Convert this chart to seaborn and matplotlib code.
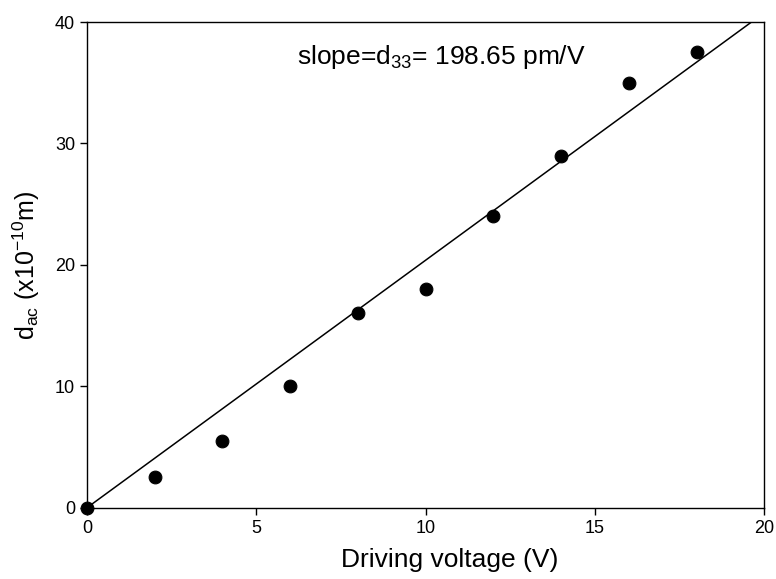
import matplotlib
matplotlib.use("Agg")
import matplotlib.pyplot as plt
import numpy as np
import seaborn as sns
import pandas as pd

voltage = [0, 2, 4, 6, 8, 10, 12, 14, 16, 18]
d_ac = [0, 2.5, 5.5, 10, 16, 18, 24, 29, 35, 37.5]

sns.set_style("ticks")
plt.rcParams['font.family'] = ['Liberation Sans', 'DejaVu Sans']
plt.rcParams['mathtext.default'] = 'regular'
plt.rcParams['text.color'] = 'black'
plt.rcParams['axes.labelcolor'] = 'black'
plt.rcParams['xtick.color'] = 'black'
plt.rcParams['ytick.color'] = 'black'

df = pd.DataFrame({'V': voltage, 'd': d_ac})

# least squares fit through origin
x = np.array(voltage, dtype=float)
y = np.array(d_ac, dtype=float)
slope = (x * y).sum() / (x * x).sum()
fit = pd.DataFrame({'V': [0, 20], 'd': [0, 20 * slope]})

fig, ax = plt.subplots(figsize=(7.76, 5.79), dpi=100)
fig.subplots_adjust(left=0.112, right=0.985, top=0.962, bottom=0.123)

sns.lineplot(data=fit, x='V', y='d', color='black', lw=1.1, ax=ax)
sns.scatterplot(data=df, x='V', y='d', color='black', s=85, edgecolor='black',
                ax=ax, clip_on=False, zorder=3)

ax.set_xlim(0, 20)
ax.set_ylim(0, 40)
ax.set_xticks([0, 5, 10, 15, 20])
ax.set_yticks([0, 10, 20, 30, 40])
ax.tick_params(direction='out', length=5, width=1, labelsize=13, color='black')
for s in ax.spines.values():
    s.set_color('black')
    s.set_linewidth(1)
    s.set_visible(True)

ax.set_xlabel('Driving voltage (V)', fontsize=19)
ax.xaxis.set_label_coords(0.536, -0.083)
ax.set_ylabel('d$_{ac}$ (x10$^{-10}$m)', fontsize=18, labelpad=9)
ax.text(6.2, 37.1, 'slope=d$_{33}$= 198.65 pm/V', fontsize=19, va='center')

fig.savefig('out.png', dpi=100)
